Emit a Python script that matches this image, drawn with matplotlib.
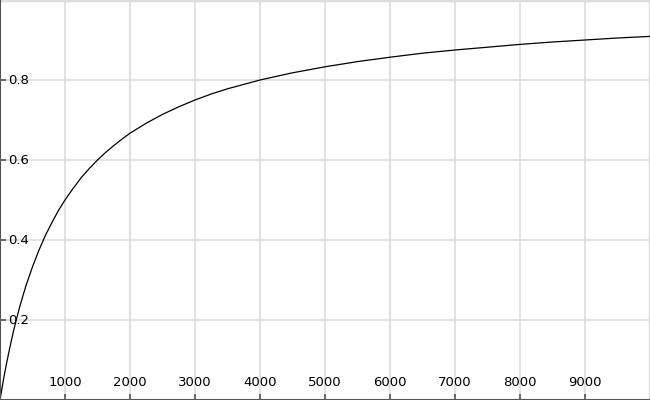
import matplotlib
matplotlib.use("Agg")
import matplotlib.pyplot as plt

# values
x_vals = [0, 25, 50, 75, 100, 150, 200, 250, 300, 350, 400, 500, 600, 700,
          800, 900, 1000, 1125, 1250, 1375, 1500, 1625, 1750, 1875, 2000,
          2250, 2500, 2750, 3000, 3250, 3500, 3750, 4000, 4500, 5000, 5500,
          6000, 6500, 7000, 7500, 8000, 8500, 9000, 9500, 10000]
y_vals = [0.0, 0.024, 0.048, 0.070, 0.091, 0.130, 0.167, 0.200, 0.231,
          0.259, 0.286, 0.333, 0.375, 0.412, 0.444, 0.474, 0.500, 0.529,
          0.556, 0.579, 0.600, 0.619, 0.636, 0.652, 0.667, 0.692, 0.714,
          0.733, 0.750, 0.765, 0.778, 0.789, 0.800, 0.818, 0.833, 0.846,
          0.857, 0.867, 0.875, 0.882, 0.889, 0.895, 0.900, 0.905, 0.909]
x_ticks = [1000, 2000, 3000, 4000, 5000, 6000, 7000, 8000, 9000]
y_ticks = [0.2, 0.4, 0.6, 0.8]

fig = plt.figure(figsize=(6.5, 4), dpi=100)
ax = fig.add_axes([0, 0, 1, 1])
ax.plot(x_vals, y_vals, color="black", lw=0.9, solid_joinstyle="round")
ax.set_xlim(0, 10000)
ax.set_ylim(0, 1)

ax.set_xticks(x_ticks)
ax.set_yticks(y_ticks)
ax.set_xticklabels([str(v) for v in x_ticks])
ax.set_yticklabels([f"{v:.1f}" for v in y_ticks])

ax.grid(True, color="#dddddd", lw=1.2)
ax.axhline(1.0, color="#dddddd", lw=2.5, zorder=0)
ax.axvline(10000, color="#dddddd", lw=2.5, zorder=0)
ax.set_axisbelow(True)

for s in ["top", "right"]:
    ax.spines[s].set_visible(False)
for s in ["left", "bottom"]:
    ax.spines[s].set_color("#555555")
    ax.spines[s].set_linewidth(1.5)

ax.tick_params(axis="both", direction="in", length=4, width=1.2,
               color="#555555", labelsize=9.5)
ax.tick_params(axis="y", pad=-6)
ax.tick_params(axis="x", pad=-8)
for lab in ax.get_yticklabels():
    lab.set_horizontalalignment("left")
    lab.set_verticalalignment("center")
for lab in ax.get_xticklabels():
    lab.set_verticalalignment("bottom")

fig.savefig("out.png", dpi=100)
